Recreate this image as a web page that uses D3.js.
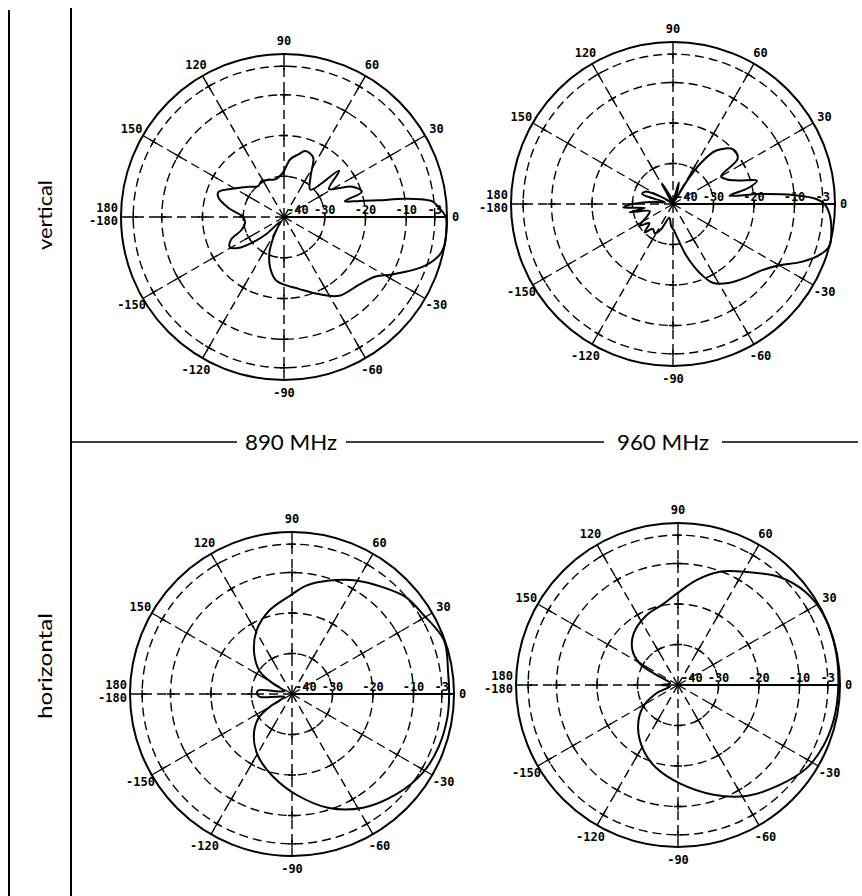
<!DOCTYPE html>
<html>
<head>
<meta charset="utf-8">
<script src="https://cdn.jsdelivr.net/npm/d3@7"></script>
<style>
  body { margin: 0; background: #fff; }
  .lbl { font-family: "DejaVu Sans Mono", monospace; font-weight: bold; font-size: 12px; fill: #000; }
  .big { font-family: Lato, "DejaVu Sans", sans-serif; fill: #000; }
</style>
</head>
<body>
<div id="chart"></div>
<script>
const svgWidth = 862;
const svgHeight = 896;

// grid: dB rings, spokes, labels
const ringLevels = [-30, -20, -10, -3];
const radialLabelLevels = [-40, -30, -20, -10, -3];
const radialLabels = ["-40", "-30", "-20", "-10", "-3"];
const spokeAngles = d3.range(0, 360, 30);
const angleLabelAngles = [30, 60, 90, 120, 150, -150, -120, -90, -60, -30];
const angleLabels = ["30", "60", "90", "120", "150", "-150", "-120", "-90", "-60", "-30"];

const freqLabels = ["890 MHz", "960 MHz"];
const rowLabels = ["vertical", "horizontal"];

// vertical polarisation, 890 MHz (angle deg, level dB)
const v890Angles = [-180, -171, -163, -157, -151, -146, -141, -136, -128, -120, -117, -112, -105, -97, -88, -79, -66, -55, -42, -33, -28, -20, -14, -10, -5, 0, 4, 6, 8.5, 10, 12, 14.5, 18, 24, 28, 32, 40, 46, 57, 64, 72, 77, 84, 91, 102, 111, 122, 130, 140, 148, 159, 163, 171];
const v890Db = [-30, -30.3, -29.1, -25.9, -24.8, -26.4, -30, -34, -38.5, -36, -34, -30.4, -27, -24.3, -23.2, -22.1, -19.3, -16.4, -15.2, -13.2, -10, -4, -0.8, 0, 0, -0.3, -2.2, -3.4, -9.8, -16.4, -21, -24.6, -19.9, -21.7, -25, -27, -22.3, -30.7, -28, -23.7, -23, -24.2, -25.8, -29, -30.5, -30.2, -29.6, -30.1, -28.5, -26.6, -22.8, -23.1, -26.3];

// vertical polarisation, 960 MHz
const v960Angles = [-180, -176, -172, -169, -163, -155, -147, -141, -135, -129, -122, -115, -105, -95, -88, -82, -75.5, -69, -63, -54, -45, -38, -31, -24, -19, -15, -10, -4, 0, 2, 4.3, 6.6, 8.4, 12, 15.5, 20, 25, 30, 35, 42, 51, 56, 59, 64, 70, 75, 80, 90, 100, 110, 118, 124, 135, 145, 156, 162, 168, 174];
const v960Db = [-30, -27.7, -33, -29.1, -34, -33, -30.2, -32.5, -30.1, -32.1, -31.5, -33.2, -36.5, -34.6, -33.5, -31.3, -26.8, -21.9, -18.1, -16, -14.4, -13, -10.3, -5, -1.6, 0, -0.3, -1.2, -2.6, -4.6, -10.3, -18.5, -25.9, -21, -18.5, -23, -25.5, -26.3, -20.5, -19.9, -23, -28, -33.7, -39, -37, -34.5, -39, -39.5, -39, -38, -34.2, -39, -39.5, -38, -32.5, -32, -38, -35];

// horizontal polarisation, 890 MHz
const h890Angles = [-175, -170, -160, -150, -144, -132, -118.5, -103, -87.5, -72, -58, -44, -31, -19.6, -8.3, 0, 7.5, 19.5, 31.6, 40.4, 49.7, 60.6, 71.7, 82.5, 90, 105, 119, 133, 145, 151, 160, 170, 174, 180];
const h890Db = [-32, -36, -38, -33.7, -29.7, -25.9, -22.5, -19.1, -15.1, -10.4, -6.9, -4.3, -2.3, -1.5, -1.2, -1.2, -1.1, -0.2, -2.2, -3.1, -5.4, -7.8, -10.5, -13, -15.4, -18.6, -22, -26.3, -30.3, -34.6, -38, -36, -31.6, -31.4];

// horizontal polarisation, 960 MHz
const h960Angles = [-170, -159, -148, -134, -118, -104.6, -89, -72, -58.4, -44.5, -33, -23, -12.7, 0, 13.6, 25.8, 36, 46.8, 58.9, 69.8, 80, 91, 100.5, 114.3, 130.6, 142.5, 150.5, 155, 165, 175, 180];
const h960Db = [-38, -34.3, -29.8, -25.8, -21.8, -18.8, -15.7, -11.5, -7.8, -4.8, -2.2, -1.1, -0.6, -0.4, -0.1, -0.1, -1, -3.4, -7.4, -10.2, -13.7, -17.5, -19.7, -21.1, -23.2, -25.8, -29.1, -34.1, -38, -37.5, -36];

const panels = [
  { cx: 284, cy: 217, R: 163, angles: v890Angles, db: v890Db },
  { cx: 673, cy: 204, R: 162, angles: v960Angles, db: v960Db },
  { cx: 292, cy: 694, R: 162, angles: h890Angles, db: h890Db },
  { cx: 678, cy: 685, R: 162, angles: h960Angles, db: h960Db }
];

const svg = d3.select("#chart")
  .append("svg")
  .attr("width", svgWidth)
  .attr("height", svgHeight);

// frame lines on the left and the separator
svg.append("line").attr("x1", 9).attr("y1", 10).attr("x2", 9).attr("y2", svgHeight)
  .attr("stroke", "#000").attr("stroke-width", 2);
svg.append("line").attr("x1", 71).attr("y1", 8).attr("x2", 71).attr("y2", svgHeight)
  .attr("stroke", "#000").attr("stroke-width", 2);

[[71, 237], [346, 604], [722, 858]].forEach(s => {
  svg.append("line").attr("x1", s[0]).attr("x2", s[1]).attr("y1", 442).attr("y2", 442)
    .attr("stroke", "#000").attr("stroke-width", 1.5);
});

svg.selectAll("text.freq")
  .data(freqLabels)
  .enter()
  .append("text")
  .attr("class", "big freq")
  .attr("x", (d, i) => [291, 663][i])
  .attr("y", 450)
  .attr("text-anchor", "middle")
  .attr("font-size", 22)
  .attr("textLength", 92)
  .attr("lengthAdjust", "spacingAndGlyphs")
  .text(d => d);

svg.selectAll("text.row")
  .data(rowLabels)
  .enter()
  .append("text")
  .attr("class", "big row")
  .attr("transform", (d, i) => `translate(52, ${[215, 666][i]}) rotate(-90)`)
  .attr("text-anchor", "middle")
  .attr("font-size", 19)
  .attr("textLength", (d, i) => [70, 106][i])
  .attr("lengthAdjust", "spacingAndGlyphs")
  .text(d => d);

const rad = a => a * Math.PI / 180;

panels.forEach(p => {
  const g = svg.append("g").attr("transform", `translate(${p.cx}, ${p.cy})`);
  const r = d3.scaleLinear().domain([-40, 0]).range([0, p.R]).clamp(true);

  // outer circle (0 dB)
  g.append("circle").attr("r", r(0)).attr("fill", "none")
    .attr("stroke", "#000").attr("stroke-width", 2);

  // dashed rings
  g.selectAll("circle.ring")
    .data(ringLevels)
    .enter()
    .append("circle")
    .attr("class", "ring")
    .attr("r", d => r(d))
    .attr("fill", "none")
    .attr("stroke", "#000")
    .attr("stroke-width", 1.4)
    .attr("stroke-dasharray", "9,5");

  // dashed spokes, 0 deg is solid
  g.selectAll("line.spoke")
    .data(spokeAngles)
    .enter()
    .append("line")
    .attr("x1", 0).attr("y1", 0)
    .attr("x2", d => r(0) * Math.cos(rad(d)))
    .attr("y2", d => -r(0) * Math.sin(rad(d)))
    .attr("stroke", "#000")
    .attr("stroke-width", d => d === 0 ? 1.8 : 1.4)
    .attr("stroke-dasharray", d => d === 0 ? null : "9,5");

  // small crosses where spokes meet rings
  const crossings = [];
  spokeAngles.forEach(a => ringLevels.forEach(l => crossings.push([a, l])));
  const tk = 4;
  g.selectAll("path.tick")
    .data(crossings)
    .enter()
    .append("path")
    .attr("d", d => {
      const c = Math.cos(rad(d[0])), s = -Math.sin(rad(d[0]));
      const x = r(d[1]) * c, y = r(d[1]) * s;
      return `M${x - tk * c},${y - tk * s}L${x + tk * c},${y + tk * s}` +
             `M${x + tk * s},${y - tk * c}L${x - tk * s},${y + tk * c}`;
    })
    .attr("stroke", "#000")
    .attr("stroke-width", 1.4);

  // radial level labels along 0 deg
  g.selectAll("text.rl")
    .data(radialLabelLevels)
    .enter()
    .append("text")
    .attr("class", "lbl")
    .attr("x", (d, i) => i === 0 ? 3 : r(d))
    .attr("y", -3)
    .attr("text-anchor", (d, i) => i === 0 ? "start" : "middle")
    .text((d, i) => radialLabels[i]);

  // angle labels
  g.selectAll("text.al")
    .data(angleLabelAngles)
    .enter()
    .append("text")
    .attr("class", "lbl")
    .attr("x", d => (r(0) + 13) * Math.cos(rad(d)))
    .attr("y", d => -(r(0) + 13) * Math.sin(rad(d)))
    .attr("dy", "0.35em")
    .attr("text-anchor", "middle")
    .text((d, i) => angleLabels[i]);

  g.append("text").attr("class", "lbl")
    .attr("x", r(0) + 5).attr("y", 0).attr("dy", "0.35em")
    .text("0");
  g.append("text").attr("class", "lbl")
    .attr("x", -r(0) - 3).attr("y", -5).attr("text-anchor", "end")
    .text("180");
  g.append("text").attr("class", "lbl")
    .attr("x", -r(0) - 3).attr("y", 8).attr("text-anchor", "end")
    .text("-180");

  // the measured pattern
  const pts = p.angles.map((a, i) => [a, p.db[i]]);
  const line = d3.lineRadial()
    .angle(d => rad(90 - d[0]))
    .radius(d => r(d[1]))
    .curve(d3.curveCatmullRomClosed.alpha(0.5));

  g.append("path")
    .datum(pts)
    .attr("d", line)
    .attr("fill", "none")
    .attr("stroke", "#000")
    .attr("stroke-width", 2);
});
</script>
</body>
</html>
